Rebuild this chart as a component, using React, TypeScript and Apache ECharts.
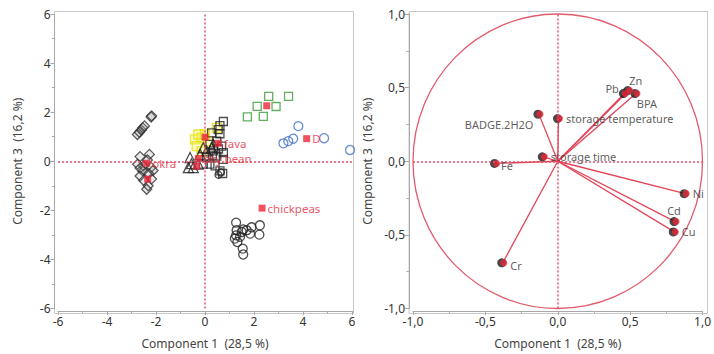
import React, { useEffect, useRef } from "react";
import * as echarts from "echarts";

// ---------- Score plot (left) ----------
const okraDiamonds: number[][] = [
  [-2.76, 1.09], [-2.68, 1.18], [-2.6, 1.27], [-2.54, 1.36], [-2.47, 1.44],
  [-2.2, 1.8], [-2.18, 1.85],
  [-2.65, 0.19], [-2.27, 0.28], [-2.35, 0.05], [-2.51, -0.19], [-2.75, -0.12],
  [-2.65, -0.28], [-2.53, -0.4], [-2.2, -0.25], [-2.12, -0.38], [-2.65, -0.6],
  [-2.5, -0.78], [-2.32, -1.0], [-2.38, -1.14], [-2.18, -0.72], [-2.3, -0.5],
];
const chickpeaCircles: number[][] = [
  [1.27, -2.5], [1.56, -2.78], [1.9, -2.69], [2.24, -2.61], [2.22, -2.99],
  [1.84, -2.95], [1.5, -2.88], [1.29, -2.81], [1.22, -3.15], [1.32, -3.29],
  [1.54, -3.56], [1.56, -3.8], [1.7, -2.81], [1.43, -3.08], [1.27, -3.02],
];
const blueCircles: number[][] = [
  [3.2, 0.73], [3.4, 0.82], [3.6, 0.92], [3.81, 1.43], [4.86, 0.94], [5.92, 0.46],
];
const greenSquares: number[][] = [
  [1.73, 1.81], [2.13, 2.24], [2.38, 1.83], [2.6, 2.64], [2.9, 2.23], [3.41, 2.64],
];
const blackSquares: number[][] = [
  [0.75, 1.62], [0.61, 1.45], [0.54, 1.29], [0.27, 1.16], [0.61, 1.12],
  [0.48, 0.82], [0.2, 0.69], [0.68, 0.62], [0.34, 0.42], [0.75, 0.35],
  [0.48, 0.21], [0.07, 0.15], [0.75, 0.08], [0.2, -0.12], [0.41, -0.19],
  [0.61, -0.39], [0.72, -0.5], [-0.07, -0.12], [0.55, 0.5], [0.3, 0.25],
];
const blackTriangles: number[][] = [
  [-0.61, 0.15], [-0.68, -0.26], [-0.48, -0.26], [-0.2, 0.28], [-0.27, -0.12],
  [-0.07, 0.55], [0.07, 0.42], [0.27, 0.55], [0.34, 0.69], [-0.55, -0.1],
];
const yellowSquares: number[][] = [
  [-0.41, 0.89], [-0.27, 1.09], [-0.14, 0.96], [-0.34, 0.62], [0.0, 1.09],
  [0.14, 0.82], [0.48, 1.36], [-0.14, 0.4],
];
const smallBlackCircles: number[][] = [[0.55, -0.55], [0.65, -0.45]];
const centroidNames = ["okra", "", "", "fava", "dry bean", "", "", "D", "chickpeas"];
const centroidX = [-2.38, -2.34, 0.0, 0.54, -0.27, -0.34, 2.52, 4.15, 2.33];
const centroidY = [-0.08, -0.73, 0.98, 0.73, 0.11, -0.21, 2.26, 0.92, -1.91];

// ---------- Loading plot (right) ----------
const loadingNames = ["Pb", "Zn", "BPA", "BADGE.2H2O", "storage temperature", "storage time", "Fe", "Ni", "Cd", "Cu", "Cr"];
const loadingX = [0.46, 0.49, 0.54, -0.13, 0.005, -0.1, -0.43, 0.88, 0.81, 0.805, -0.38];
const loadingY = [0.46, 0.48, 0.46, 0.32, 0.29, 0.03, -0.015, -0.22, -0.41, -0.48, -0.69];

const scoreTicks = [-6, -4, -2, 0, 2, 4, 6];
const loadingTicks = ["-1,0", "-0,5", "0,0", "0,5", "1,0"];

const FONT = "Noto Sans";
const RED = "#e8283a";
const AXC = "#a8a8a8";

function axis(gridIndex: number, min: number, max: number, interval: number, fmt: (v: number) => string, name: string, nameGap: number, offset: number) {
  return {
    type: "value",
    gridIndex,
    min,
    max,
    interval,
    offset,
    name,
    nameLocation: "middle",
    nameGap,
    nameTextStyle: { color: "#444", fontSize: 12, fontFamily: FONT },
    axisLine: { show: true, onZero: false, lineStyle: { color: AXC } },
    axisTick: { show: true, length: 4, lineStyle: { color: AXC } },
    minorTick: { show: true, splitNumber: 2, length: 2.5, lineStyle: { color: AXC } },
    splitLine: { show: false },
    minorSplitLine: { show: false },
    axisLabel: { color: "#333", fontSize: 12, fontFamily: FONT, margin: 4, formatter: fmt },
  };
}

const scoreFmt = (v: number) => {
  const t = scoreTicks.find((x) => Math.abs(x - v) < 1e-6);
  return t === undefined ? "" : String(t);
};
const loadFmt = (v: number) => {
  const i = Math.round((v + 1) / 0.5);
  return loadingTicks[i] ?? "";
};

function outline(data: number[][], symbol: string, color: string, size: number, fill = "none") {
  return {
    type: "scatter",
    xAxisIndex: 0,
    yAxisIndex: 0,
    data,
    symbol,
    symbolSize: size,
    itemStyle: { color: fill === "none" ? "rgba(0,0,0,0)" : fill, borderColor: color, borderWidth: 1.3 },
    z: 3,
  };
}

const refLine = {
  silent: true,
  symbol: "none",
  label: { show: false },
  lineStyle: { type: [2, 2], color: "#e0506a", width: 1.5 },
  data: [{ xAxis: 0 }, { yAxis: 0 }],
};

export default function App() {
  const ref = useRef<HTMLDivElement>(null);
  useEffect(() => {
    if (!ref.current) return;
    const chart = echarts.init(ref.current, null, { renderer: "svg" });
    const loadings = loadingNames.map((n, i) => ({ name: n, value: [loadingX[i], loadingY[i]] }));
    const labelPos: Record<string, any> = {
      Pb: { position: "left", offset: [0, -5] },
      Zn: { position: "top", offset: [6, 2] },
      BPA: { position: "bottom", offset: [10, -2] },
      "BADGE.2H2O": { position: "left", offset: [0, 10] },
      Cd: { position: "top", offset: [-2, 1] },
      Cr: { position: "right", offset: [0, 3] },
      Fe: { position: "right", offset: [-2, 2] },
    };
    const option: any = {
      animation: false,
      grid: [
        { left: 58, top: 14, width: 294, height: 297 },
        { left: 413, top: 14, width: 292, height: 297 },
      ],
      xAxis: [
        axis(0, -6, 6, 2, scoreFmt, "Component 1  (28,5 %)", 26, 2.5),
        axis(1, -1, 1, 0.5, loadFmt, "Component 1  (28,5 %)", 26, 2.5),
      ],
      yAxis: [
        axis(0, -6, 6, 2, scoreFmt, "Component 3  (16,2 %)", 31, 3.5),
        axis(1, -1, 1, 0.5, loadFmt, "Component 3  (16,2 %)", 36, 4),
      ],
      graphic: [
        { type: "rect", silent: true, z: -1, shape: { x: 54.5, y: 11.5, width: 299, height: 302 }, style: { fill: "none", stroke: "#c8c8c8", lineWidth: 1 } },
        { type: "rect", silent: true, z: -1, shape: { x: 409, y: 11.5, width: 298.5, height: 302 }, style: { fill: "none", stroke: "#c8c8c8", lineWidth: 1 } },
      ],
      series: [
        { ...outline(okraDiamonds, "diamond", "#333", 10, "rgba(150,150,150,0.25)"), markLine: refLine },
        outline(chickpeaCircles, "circle", "#222", 9),
        outline(blueCircles, "circle", "#3f6fc8", 9),
        outline(greenSquares, "rect", "#3a9a3a", 8),
        outline(yellowSquares, "rect", "#e6e000", 9, "rgba(245,245,120,0.45)"),
        outline(blackSquares, "rect", "#222", 8),
        outline(blackTriangles, "triangle", "#222", 10),
        outline(smallBlackCircles, "circle", "#222", 7),
        {
          type: "scatter",
          xAxisIndex: 0,
          yAxisIndex: 0,
          z: 5,
          symbol: "rect",
          symbolSize: 7,
          itemStyle: { color: RED },
          data: centroidNames.map((n, i) => ({ name: n, value: [centroidX[i], centroidY[i]] })),
          label: { show: true, position: "right", distance: 2, color: RED, fontSize: 11.5, fontFamily: FONT, formatter: (p: any) => p.name },
        },
        // right plot
        {
          type: "custom",
          xAxisIndex: 1,
          yAxisIndex: 1,
          data: [[0, 0]],
          silent: true,
          z: 1,
          renderItem: (_p: any, api: any) => {
            const c = api.coord([0, 0]);
            const s = api.size([1, 1]);
            return { type: "ellipse", shape: { cx: c[0], cy: c[1], rx: s[0], ry: s[1] }, style: { fill: "none", stroke: "#e25a6c", lineWidth: 1.3 } };
          },
          markLine: refLine,
        },
        {
          type: "custom",
          xAxisIndex: 1,
          yAxisIndex: 1,
          silent: true,
          z: 2,
          data: loadings.map((d) => d.value),
          renderItem: (_p: any, api: any) => {
            const o = api.coord([0, 0]);
            const p = api.coord([api.value(0), api.value(1)]);
            return { type: "line", shape: { x1: o[0], y1: o[1], x2: p[0], y2: p[1] }, style: { stroke: "#e24458", lineWidth: 1.3 } };
          },
        },
        {
          type: "scatter",
          xAxisIndex: 1,
          yAxisIndex: 1,
          z: 3,
          symbol: "circle",
          symbolSize: 9,
          symbolOffset: [-1, 0],
          itemStyle: { color: "#1a1a1a" },
          data: loadings.map((d) => d.value),
        },
        {
          type: "scatter",
          xAxisIndex: 1,
          yAxisIndex: 1,
          z: 4,
          symbol: "circle",
          symbolSize: 7,
          symbolOffset: [1, 0],
          itemStyle: { color: "#e8283a" },
          data: loadings.map((d) => ({
            ...d,
            label: { show: true, ...(labelPos[d.name] || { position: "right" }) },
          })),
          label: { show: true, position: "right", distance: 3, color: "#333", fontSize: 11, fontFamily: FONT, formatter: (p: any) => p.name },
        },
      ],
    };
    chart.setOption(option);
    return () => chart.dispose();
  }, []);
  return <div ref={ref} style={{ position: "fixed", left: 0, top: 0, width: 714, height: 354, background: "#fff" }} />;
}
